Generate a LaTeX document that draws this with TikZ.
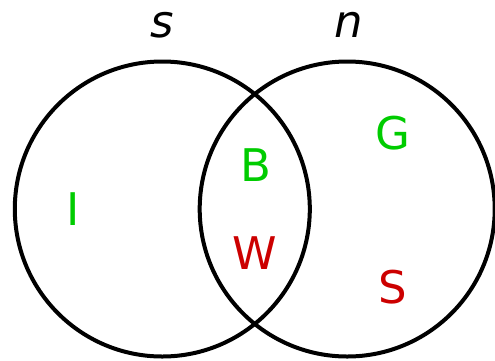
\documentclass[tikz,border=0pt]{standalone}
\usepackage{fontspec}
\setmainfont{DejaVu Sans}
\usetikzlibrary{positioning}
\definecolor{ingreen}{RGB}{0,204,0}
\definecolor{outred}{RGB}{204,0,0}

\begin{document}
\begin{tikzpicture}[x=1pt, y=-1pt, line width=4pt,
  every node/.style={font=\fontsize{45}{54}\selectfont},
  set/.style={circle, draw, minimum size=295pt, inner sep=0pt},
  yes/.style={text=ingreen},
  no/.style={text=outred}]
  \useasboundingbox (0,0) rectangle (495,360);
  % the two sets
  \node[set] (s) at (162.3,209) {};
  \node[set] (n) at (347.2,209) {};
  \node[anchor=base, font=\fontsize{45}{54}\selectfont\itshape] (slabel) at (162.5,37) {s};
  \node[anchor=base, font=\fontsize{45}{54}\selectfont\itshape] (nlabel) at (349,37) {n};
  % the members
  \node[yes] (I) at (73,209.5) {I};
  \node[yes] (B) at (256,165) {B};
  \node[no]  (W) at (255,253.5) {W};
  \node[yes] (G) at (393,133) {G};
  \node[no]  (S) at (393,287) {S};
\end{tikzpicture}
\end{document}
